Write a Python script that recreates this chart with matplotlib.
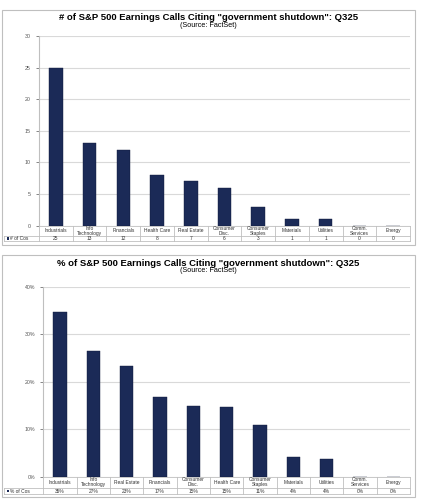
import matplotlib
matplotlib.use("Agg")
import matplotlib.pyplot as plt
from matplotlib.patches import Rectangle

plt.rcParams['font.family'] = ['Liberation Sans', 'DejaVu Sans']

# Data
count_sectors = ['Industrials', 'Info\nTechnology', 'Financials', 'Health Care', 'Real Estate',
                 'Consumer\nDisc.', 'Consumer\nStaples', 'Materials', 'Utilities',
                 'Comm.\nServices', 'Energy']
count_values = [25, 13, 12, 8, 7, 6, 3, 1, 1, 0, 0]

pct_sectors = ['Industrials', 'Info\nTechnology', 'Real Estate', 'Financials', 'Consumer\nDisc.',
               'Health Care', 'Consumer\nStaples', 'Materials', 'Utilities',
               'Comm.\nServices', 'Energy']
pct_values = [34.7, 26.5, 23.4, 16.9, 15.0, 14.6, 10.8, 4.1, 3.8, 0, 0]
pct_labels = ['35%', '27%', '23%', '17%', '15%', '15%', '11%', '4%', '4%', '0%', '0%']

W, H = 422, 500
BAR = '#1b2a57'
GRID = '#d9d9d9'
LINE = '#bfbfbf'
TXT = '#333333'

fig = plt.figure(figsize=(W / 100, H / 100), dpi=100)


def px_axes(x0, y0, x1, y1, **kw):
    return fig.add_axes([x0 / W, 1 - y1 / H, (x1 - x0) / W, (y1 - y0) / H], **kw)


# overlay in pixel coordinates for frames and the data tables
ov = fig.add_axes([0, 0, 1, 1], zorder=5)
ov.set_xlim(0, W)
ov.set_ylim(H, 0)
ov.axis('off')
ov.patch.set_alpha(0)


def panel(box, plot, title, cats, vals, row_labels, ylim, ticks, ticklabels, legend, rows):
    bx0, by0, bx1, by1 = box
    ov.add_patch(Rectangle((bx0, by0), bx1 - bx0, by1 - by0, fill=False, ec=LINE, lw=0.8))
    ov.text((bx0 + bx1) / 2, by0 + 10.5, title, ha='center', va='baseline', fontsize=6.8,
            fontweight='bold', color='black')
    ov.text((bx0 + bx1) / 2, by0 + 17.5, '(Source: FactSet)', ha='center', va='baseline',
            fontsize=5.2, color='black')

    x0, y0, x1, y1 = plot
    ax = px_axes(x0, y0, x1, y1)
    ax.bar(range(len(vals)), vals, width=0.4, color=BAR, edgecolor='#111a3a', lw=0.3, zorder=3)
    ax.set_xlim(-0.5, len(vals) - 0.5)
    ax.set_ylim(*ylim)
    ax.set_yticks(ticks)
    ax.set_yticklabels(ticklabels)
    ax.tick_params(axis='y', labelsize=3.8, colors='#555555', length=2, width=0.5, pad=4)
    ax.tick_params(axis='x', bottom=False, labelbottom=False)
    ax.grid(axis='y', color=GRID, lw=0.8, zorder=0)
    for s in ['top', 'right', 'bottom']:
        ax.spines[s].set_visible(False)
    ax.spines['left'].set_color(LINE)
    ax.spines['left'].set_linewidth(0.8)

    # table under the plot
    r0, r1, r2 = rows
    n = len(cats)
    cw = (x1 - x0) / n
    ov.plot([x0, x1], [r0, r0], color=LINE, lw=0.6)
    ov.plot([bx0 + 2, x1], [r1, r1], color=LINE, lw=0.6)
    ov.plot([bx0 + 2, x1], [r2, r2], color=LINE, lw=0.6)
    ov.plot([bx0 + 2, bx0 + 2], [r1, r2], color=LINE, lw=0.6)
    for i in range(n + 1):
        ov.plot([x0 + i * cw] * 2, [r0, r2], color=LINE, lw=0.6)
    for i, (c, v) in enumerate(zip(cats, row_labels)):
        cx = x0 + (i + 0.5) * cw
        ov.text(cx, (r0 + r1) / 2, c, ha='center', va='center', fontsize=3.5, color=TXT,
                linespacing=0.95)
        ov.text(cx, (r1 + r2) / 2 + 0.3, v, ha='center', va='center', fontsize=3.5, color=TXT)
    ov.add_patch(Rectangle((bx0 + 5, (r1 + r2) / 2 - 1.2), 2.4, 2.4, color=BAR, lw=0))
    ov.text(bx0 + 8.5, (r1 + r2) / 2 + 0.3, legend, ha='left', va='center', fontsize=3.5,
            color=TXT)
    return ax


panel((1.5, 9.5, 415, 244.5), (39, 36, 410, 225.7),
      '# of S&P 500 Earnings Calls Citing "government shutdown": Q325',
      count_sectors, count_values, [str(v) for v in count_values],
      (0, 30), [0, 5, 10, 15, 20, 25, 30], ['0', '5', '10', '15', '20', '25', '30'],
      '# of Cos', (225.7, 236, 241))

panel((1.5, 255, 415, 497), (43.3, 287, 410, 476.7),
      '% of S&P 500 Earnings Calls Citing "government shutdown": Q325',
      pct_sectors, pct_values, pct_labels,
      (0, 40), [0, 10, 20, 30, 40], ['0%', '10%', '20%', '30%', '40%'],
      '% of Cos', (476.7, 488, 494))

fig.savefig('out.png', dpi=100)
